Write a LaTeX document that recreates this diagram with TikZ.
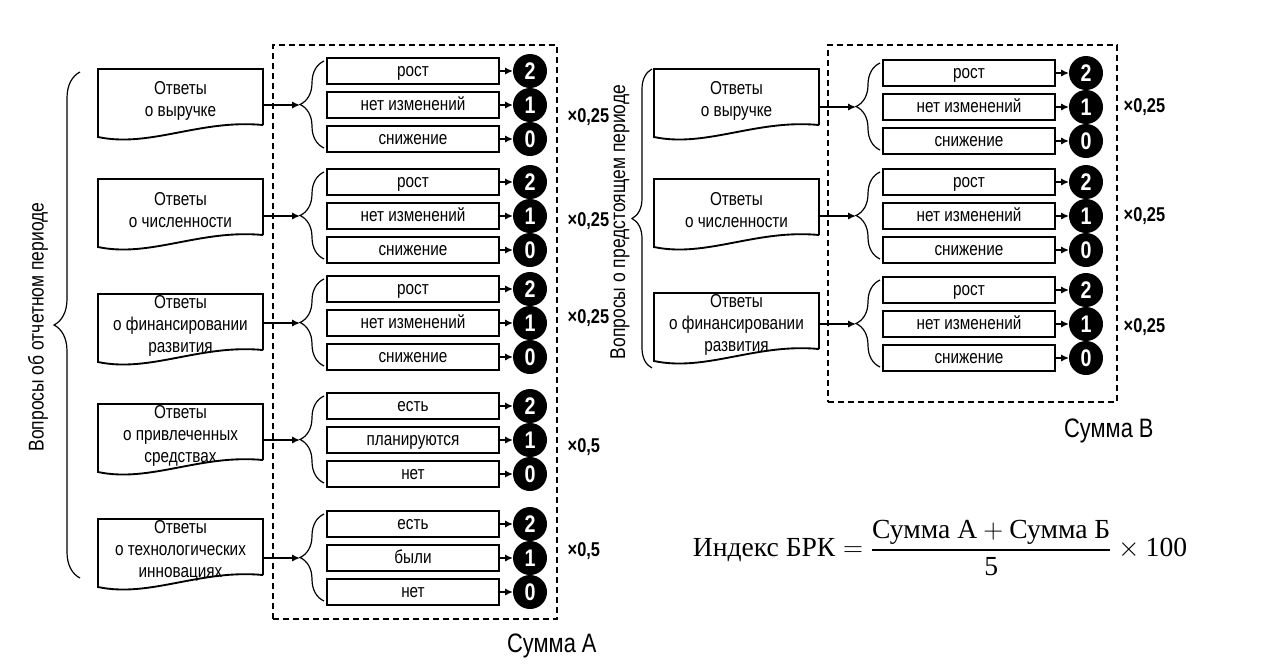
\documentclass[tikz,border=0pt]{standalone}
\usepackage{amsmath}
\usepackage{fontspec}
\setmainfont{Liberation Sans}[FakeStretch=0.82]
\newfontfamily\formulafont{Liberation Serif}
\usetikzlibrary{arrows.meta, positioning, decorations.pathreplacing}

\begin{document}
\begin{tikzpicture}[x=0.75pt, y=-0.75pt,
        node distance = 6pt and 10.5pt,
        answer/.style = {align=center, inner sep=0pt, minimum width=123.75pt, font=\fontsize{14}{16.5}\selectfont},
        docline/.style = {line width=1.4pt},
        option/.style = {draw, line width=1.4pt, inner sep=0pt, outer sep=0pt, minimum width=129pt, minimum height=19.5pt,
            text height=9.5pt, text depth=1.5pt, font=\fontsize{14}{15}\selectfont},
        score/.style = {circle, fill=black, text=white, inner sep=0pt, outer sep=0pt, minimum size=25.5pt, font=\fontsize{18}{18}\selectfont\bfseries},
        weight/.style = {anchor=west, font=\fontsize{15}{15}\selectfont\bfseries},
        pointer/.style = {line width=1.4pt, -{Latex[length=6pt, width=5.5pt]}},
        curly/.style = {line width=0.9pt, decorate, decoration={brace, amplitude=#1}},
        curly/.default = 18pt,
        sumframe/.style = {draw, line width=1.3pt, dash pattern=on 4.5pt off 3pt, inner sep=0pt},
        sumlabel/.style = {font=\fontsize{20}{20}\selectfont},
        sidelabel/.style = {rotate=90, font=\fontsize{16}{16}\selectfont},
    ]
    \useasboundingbox (0,0) rectangle (1276,669);
    % dashed frames of both sums
    \node[sumframe, minimum width=213pt, minimum height=430.5pt] (sumA) at (415,332) {};
    \node[sumframe, minimum width=216.75pt, minimum height=267.75pt] (sumB) at (972.5,223.5) {};
    \node[sumlabel] (labelA) at ([shift={(-6,26)}]sumA.south east) {Сумма А};
    \node[sumlabel] (labelB) at ([shift={(-9,28)}]sumB.south east) {Сумма В};
    %
    \foreach \g/\dx/\ya/\ym/\wy/\txt/\oa/\ob/\oc/\wt in {
        a1/0/69/105/117/{Ответы\\о выручке}/рост/нет изменений/снижение/{×0,25},
        a2/0/179/216/221/{Ответы\\о численности}/рост/нет изменений/снижение/{×0,25},
        a3/0/294/323/318/{Ответы\\о финансировании\\развития}/рост/нет изменений/снижение/{×0,25},
        a4/0/404/440/447/{Ответы\\о привлеченных\\средствах}/есть/планируются/нет/{×0,5},
        a5/0/519/558/551/{Ответы\\о технологических\\инновациях}/есть/были/нет/{×0,5},
        b1/556/69/107/107/{Ответы\\о выручке}/рост/нет изменений/снижение/{×0,25},
        b2/556/179/216/216/{Ответы\\о численности}/рост/нет изменений/снижение/{×0,25},
        b3/556/293/324/327/{Ответы\\о финансировании\\развития}/рост/нет изменений/снижение/{×0,25}} {
        \node[answer] (d\g) at (180.5+\dx, \ya+31.5) {\txt};
        \draw[docline] ([shift={(82.5,24.5)}]d\g.center) -- ++(0,-56) -- ++(-165,0) -- ++(0,68)
            .. controls +(52,11) and +(-63,-6) .. ([shift={(82.5,24.5)}]d\g.center);
        \node[option] (\g mid) at (413+\dx, \ym) {\ob};
        \node[option, above=of \g mid] (\g top) {\oa};
        \node[option, below=of \g mid] (\g bot) {\oc};
        \node[score, right=of \g top] (\g two) {2};
        \node[score, right=of \g mid] (\g one) {1};
        \node[score, right=of \g bot] (\g zero) {0};
        \node[weight] (\g w) at (563+\dx, \wy) {\wt};
        \coordinate (\g tip) at ([shift={(-27,0)}]\g mid.west);
        \draw[curly] ([shift={(-3,-4)}]\g bot.south west) -- ([shift={(-3,3)}]\g top.north west);
        \draw[pointer] (d\g.east |- \g tip) -- (\g tip);
        \draw[pointer] (\g top) -- (\g two);
        \draw[pointer] (\g mid) -- (\g one);
        \draw[pointer] (\g bot) -- (\g zero);
    }
    % outer braces of both question sets
    \coordinate (pasttop) at (80,72);
    \coordinate (pastbot) at (80,578);
    \draw[curly=19.5pt] (pastbot) -- (pasttop);
    \node[sidelabel] (pastq) at (38,327) {Вопросы об отчетном периоде};
    \coordinate (nexttop) at (652,69);
    \coordinate (nextbot) at (652,368);
    \draw[curly=15pt] (nextbot) -- (nexttop);
    \node[sidelabel] (nextq) at (620,222) {Вопросы о предстоящем периоде};
    %
    \node[font=\formulafont\fontsize{20.7}{20.7}\selectfont] (index) at (940,548)
        {$\displaystyle \mbox{Индекс БРК} = \frac{\mbox{Сумма А} + \mbox{Сумма Б}}{\mbox{5}} \times \mbox{100}$};
\end{tikzpicture}
\end{document}
